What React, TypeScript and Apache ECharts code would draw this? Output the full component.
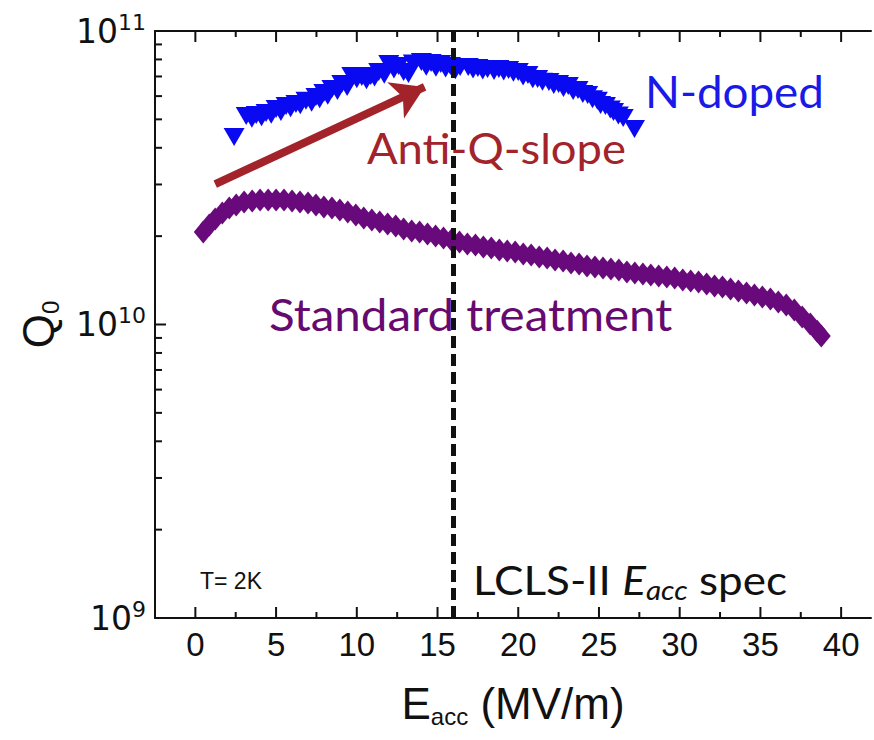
import React, { useEffect, useRef } from 'react';
import * as echarts from 'echarts';

// ---- data ----
const nDopedE = [2.4, 3.15, 3.5, 3.77, 4.1, 4.38, 4.7, 5.0, 5.3, 5.62, 5.9, 6.23, 6.5, 6.85, 7.2, 7.47, 7.7, 7.96, 8.2, 8.46, 8.8, 9.07, 9.4, 9.69, 10.0, 10.31, 10.6, 10.86, 11.1, 11.36, 11.7, 11.98, 12.3, 12.59, 12.9, 13.2, 13.5, 14.0, 14.3, 14.6, 14.9, 15.2, 15.5, 15.8, 16.1, 16.4, 16.9, 17.2, 17.5, 17.8, 18.1, 18.5, 18.8, 19.1, 19.4, 19.7, 20.0, 20.3, 20.6, 20.9, 21.2, 21.5, 21.9, 22.2, 22.5, 22.8, 23.1, 23.4, 23.7, 24.0, 24.3, 24.6, 24.9, 25.1, 25.4, 25.7, 25.9, 26.2, 26.5, 27.2];
const nDopedQ = [4.35e10, 5.13e10, 5.02e10, 5.17e10, 5.08e10, 5.26e10, 5.18e10, 5.42e10, 5.30e10, 5.55e10, 5.45e10, 5.64e10, 5.58e10, 5.78e10, 5.70e10, 5.96e10, 5.85e10, 6.15e10, 6.02e10, 6.35e10, 6.25e10, 6.60e10, 6.45e10, 7.03e10, 6.85e10, 6.97e10, 6.80e10, 7.03e10, 6.95e10, 7.25e10, 7.10e10, 7.72e10, 7.40e10, 7.60e10, 7.25e10, 7.14e10, 7.75e10, 7.84e10, 7.55e10, 7.78e10, 7.50e10, 7.72e10, 7.45e10, 7.60e10, 7.35e10, 7.54e10, 7.54e10, 7.40e10, 7.48e10, 7.33e10, 7.42e10, 7.30e10, 7.42e10, 7.28e10, 7.37e10, 7.20e10, 7.25e10, 7.00e10, 7.08e10, 6.85e10, 6.86e10, 6.72e10, 6.70e10, 6.55e10, 6.60e10, 6.40e10, 6.50e10, 6.25e10, 6.30e10, 6.10e10, 6.05e10, 5.85e10, 5.78e10, 5.60e10, 5.55e10, 5.40e10, 5.30e10, 5.15e10, 5.05e10, 4.64e10];

const stdE = [0.49, 0.86, 1.23, 1.67, 2.10, 2.53, 3.02, 3.52, 4.01, 4.51, 5.0, 5.49, 5.99, 6.48, 6.98, 7.47, 7.96, 8.46, 8.95, 9.44, 9.94, 10.43, 10.93, 11.42, 11.91, 12.41, 12.90, 13.40, 13.89, 14.38, 14.88, 15.37, 15.86, 16.36, 16.85, 17.35, 17.84, 18.33, 18.83, 19.32, 19.81, 20.31, 20.80, 21.30, 21.79, 22.28, 22.78, 23.27, 23.77, 24.26, 24.75, 25.25, 25.74, 26.23, 26.73, 27.22, 27.72, 28.21, 28.70, 29.20, 29.69, 30.19, 30.68, 31.17, 31.67, 32.16, 32.65, 33.15, 33.64, 34.14, 34.63, 35.12, 35.62, 36.11, 36.60, 37.10, 37.59, 38.09, 38.52, 38.77];
const stdQ = [2.066e10, 2.183e10, 2.288e10, 2.399e10, 2.495e10, 2.554e10, 2.615e10, 2.635e10, 2.656e10, 2.656e10, 2.656e10, 2.656e10, 2.635e10, 2.615e10, 2.594e10, 2.554e10, 2.514e10, 2.495e10, 2.456e10, 2.417e10, 2.361e10, 2.306e10, 2.270e10, 2.235e10, 2.200e10, 2.166e10, 2.115e10, 2.082e10, 2.066e10, 2.034e10, 2.002e10, 1.971e10, 1.940e10, 1.910e10, 1.880e10, 1.866e10, 1.836e10, 1.822e10, 1.794e10, 1.780e10, 1.766e10, 1.738e10, 1.725e10, 1.698e10, 1.685e10, 1.658e10, 1.645e10, 1.620e10, 1.607e10, 1.582e10, 1.570e10, 1.557e10, 1.545e10, 1.533e10, 1.509e10, 1.497e10, 1.486e10, 1.474e10, 1.463e10, 1.451e10, 1.440e10, 1.417e10, 1.406e10, 1.395e10, 1.374e10, 1.352e10, 1.342e10, 1.321e10, 1.300e10, 1.280e10, 1.260e10, 1.240e10, 1.221e10, 1.192e10, 1.165e10, 1.120e10, 1.060e10, 1.003e10, 0.949e10, 0.913e10];

const xMajorTicks = [0, 5, 10, 15, 20, 25, 30, 35, 40];
const xMinorTicks = [2.5, 7.5, 12.5, 17.5, 22.5, 27.5, 32.5, 37.5];
const yMajorTicks = [1e9, 1e10, 1e11];
const yMinorTicks = [2e9, 3e9, 4e9, 5e9, 6e9, 7e9, 8e9, 9e9, 2e10, 3e10, 4e10, 5e10, 6e10, 7e10, 8e10, 9e10];

const specE = 16;
const arrowStart = [1.23, 3.01e10];
const arrowEnd = [14.2, 6.45e10];

const X_MIN = -2.5;
const X_MAX = 41.85;
const Y_MIN = 1e9;
const Y_MAX = 1e11;

const AXIS_FONT = 'Liberation Sans, Arial, sans-serif';
const LABEL_FONT = '"DejaVu Sans", sans-serif';
const NOTE_FONT = 'Lato, "Open Sans", sans-serif';

export default function App() {
  const ref = useRef<HTMLDivElement>(null);

  useEffect(() => {
    if (!ref.current) return;
    const chart = echarts.init(ref.current, undefined, { renderer: 'svg' });

    const xTickData = [
      ...xMajorTicks.map((v) => [v, Y_MIN, 1]),
      ...xMinorTicks.map((v) => [v, Y_MIN, 0]),
    ];
    const yTickData = [
      ...yMajorTicks.map((v) => [X_MIN, v, 1]),
      ...yMinorTicks.map((v) => [X_MIN, v, 0]),
    ];

    const noteStyle = (text: string, fontSize: number, fill: string, family: string = NOTE_FONT) => ({
      text,
      fontSize,
      fontFamily: family,
      fill,
      align: 'left',
      verticalAlign: 'middle',
      textAlign: 'left',
      textVerticalAlign: 'middle',
    });

    const option: any = {
      animation: false,
      backgroundColor: '#ffffff',
      grid: { left: 155, top: 31, right: 0, bottom: 122, containLabel: false },
      xAxis: [
        {
          type: 'value',
          min: X_MIN,
          max: X_MAX,
          interval: 2.5,
          position: 'bottom',
          axisLine: { show: true, onZero: false, lineStyle: { color: '#111', width: 2 } },
          axisTick: { show: false },
          splitLine: { show: false },
          axisLabel: {
            margin: 10,
            color: '#111',
            fontSize: 33,
            fontFamily: AXIS_FONT,
            formatter: (v: number) => (v >= 0 && Math.abs(v % 5) < 1e-6 ? String(Math.round(v)) : ''),
          },
          name: '{e|E}{s|acc}{e| (MV/m)}',
          nameLocation: 'middle',
          nameGap: 60,
          nameTextStyle: {
            rich: {
              e: { fontSize: 44, lineHeight: 50, fontFamily: AXIS_FONT, color: '#111' },
              s: { fontSize: 24, lineHeight: 14, fontFamily: AXIS_FONT, color: '#111', verticalAlign: 'bottom' },
            },
          },
        },
        {
          type: 'value',
          min: X_MIN,
          max: X_MAX,
          interval: 2.5,
          position: 'top',
          axisLine: { show: true, onZero: false, lineStyle: { color: '#111', width: 2 } },
          axisTick: { show: false },
          axisLabel: { show: false },
          splitLine: { show: false },
        },
      ],
      yAxis: {
        type: 'log',
        logBase: 10,
        min: Y_MIN,
        max: Y_MAX,
        axisLine: { show: true, onZero: false, lineStyle: { color: '#111', width: 2 } },
        axisTick: { show: false },
        splitLine: { show: false },
        axisLabel: {
          margin: 9,
          formatter: (v: number) => `{b|10}{s|${Math.round(Math.log10(v))}}`,
          rich: {
            b: { fontSize: 33, lineHeight: 40, fontFamily: LABEL_FONT, color: '#111' },
            s: { fontSize: 22, lineHeight: 16, fontFamily: LABEL_FONT, color: '#111', verticalAlign: 'top' },
          },
        },
        name: '{q|Q}{s|0}',
        nameLocation: 'middle',
        nameRotate: 90,
        nameGap: 93,
        nameTextStyle: {
          rich: {
            q: { fontSize: 44, lineHeight: 48, fontFamily: AXIS_FONT, color: '#111' },
            s: { fontSize: 24, lineHeight: 18, fontFamily: AXIS_FONT, color: '#111', verticalAlign: 'bottom' },
          },
        },
      },
      series: [
        {
          name: 'Standard treatment',
          type: 'scatter',
          symbol: 'diamond',
          symbolSize: [19, 23],
          itemStyle: { color: '#690a7c', opacity: 1 },
          data: stdE.map((x, i) => [x, stdQ[i]]),
          silent: true,
          z: 2,
        },
        {
          name: 'N-doped',
          type: 'scatter',
          symbol: 'triangle',
          symbolRotate: 180,
          symbolSize: [21, 18],
          itemStyle: { color: '#0a0af2', opacity: 1 },
          data: nDopedE.map((x, i) => [x, nDopedQ[i]]),
          silent: true,
          z: 3,
        },
        {
          name: 'ticksX',
          type: 'custom',
          silent: true,
          z: 6,
          data: xTickData,
          renderItem: (_p: any, api: any) => {
            const v = api.value(0);
            const len = api.value(2) ? 11 : 6;
            const b = api.coord([v, Y_MIN]);
            const t = api.coord([v, Y_MAX]);
            return {
              type: 'group',
              children: [
                { type: 'line', shape: { x1: b[0], y1: b[1], x2: b[0], y2: b[1] - len }, style: { stroke: '#111', lineWidth: 2 } },
                { type: 'line', shape: { x1: t[0], y1: t[1], x2: t[0], y2: t[1] + len }, style: { stroke: '#111', lineWidth: 2 } },
              ],
            };
          },
        },
        {
          name: 'ticksY',
          type: 'custom',
          silent: true,
          z: 6,
          data: yTickData,
          renderItem: (_p: any, api: any) => {
            const v = api.value(1);
            const len = api.value(2) ? 11 : 7;
            const l = api.coord([X_MIN, v]);
            return { type: 'line', shape: { x1: l[0], y1: l[1], x2: l[0] + len, y2: l[1] }, style: { stroke: '#111', lineWidth: 2 } };
          },
        },
        {
          name: 'marks',
          type: 'scatter',
          data: [],
          silent: true,
          z: 10,
          markLine: {
            silent: true,
            animation: false,
            label: { show: false },
            emphasis: { disabled: true },
            data: [
              [
                { coord: [specE, Y_MIN], symbol: 'none', lineStyle: { color: '#111', width: 5, type: [12, 6] } },
                { coord: [specE, Y_MAX], symbol: 'none' },
              ],
              [
                { coord: arrowStart, symbol: 'none', lineStyle: { color: '#a3232b', width: 8, type: 'solid' } },
                { coord: arrowEnd, symbol: 'arrow', symbolSize: [30, 32] },
              ],
            ],
          },
        },
      ],
      graphic: [
        { type: 'text', x: 645, y: 91, z: 20, scaleX: 1.04, style: noteStyle('N-doped', 44, '#1a1ae8') },
        { type: 'text', x: 367, y: 148, z: 20, scaleX: 1.08, style: noteStyle('Anti-Q-slope', 42, '#a3232b') },
        { type: 'text', x: 269, y: 314, z: 20, scaleX: 1.08, style: noteStyle('Standard treatment', 44, '#660a70') },
        {
          type: 'text',
          x: 473,
          y: 580,
          z: 20,
          scaleX: 1.1,
          style: {
            text: '{n|LCLS-II }{i|E}{is|acc}{n| spec}',
            align: 'left',
            verticalAlign: 'middle',
            textAlign: 'left',
            textVerticalAlign: 'middle',
            rich: {
              n: { fontSize: 40, lineHeight: 46, fontFamily: NOTE_FONT, fill: '#111', color: '#111' },
              i: { fontSize: 40, lineHeight: 46, fontFamily: NOTE_FONT, fontStyle: 'italic', fill: '#111', color: '#111' },
              is: { fontSize: 27, lineHeight: 20, fontFamily: NOTE_FONT, fontStyle: 'italic', fill: '#111', color: '#111', verticalAlign: 'bottom' },
            },
          },
        },
        { type: 'text', x: 200, y: 581, z: 20, style: noteStyle('T= 2K', 23, '#111', AXIS_FONT) },
      ],
    };

    chart.setOption(option);
    return () => chart.dispose();
  }, []);

  return <div ref={ref} style={{ position: 'absolute', left: 0, top: 0, width: 874, height: 740, background: '#fff' }} />;
}
